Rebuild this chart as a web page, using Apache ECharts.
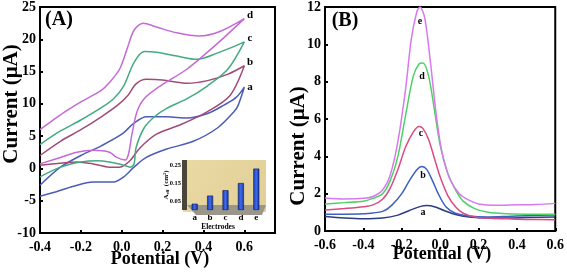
<!DOCTYPE html>
<html><head><meta charset="utf-8">
<script src="https://cdn.jsdelivr.net/npm/echarts@6/dist/echarts.min.js"></script>
<style>html,body{margin:0;padding:0;background:#fff}#c{width:567px;height:272px}</style>
</head><body><div id="c"></div>
<script>
// ---- Panel A: cyclic voltammograms [potential V, current uA] ----
const cvA = [[-0.4,-2.6],[-0.3,0.2],[-0.2,2.0],[-0.1,3.5],[0.0,5.3],[0.06,7.0],[0.12,8.0],[0.22,8.0],[0.32,7.8],[0.42,8.5],[0.5,9.8],[0.56,11.0],[0.6,12.6],
  [0.57,9.8],[0.55,8.8],[0.47,6.3],[0.35,4.2],[0.22,3.0],[0.12,1.7],[0.06,0.2],[0.01,-1.3],[-0.04,-2.1],[-0.14,-2.1],[-0.24,-2.8],[-0.32,-3.6],[-0.4,-4.3]];
const cvB = [[-0.4,2.0],[-0.3,4.2],[-0.2,6.0],[-0.1,8.0],[-0.02,9.8],[0.03,11.3],[0.07,13.1],[0.12,13.8],[0.2,13.7],[0.32,13.2],[0.42,13.6],[0.52,14.6],[0.6,15.9],
  [0.53,11.3],[0.42,8.8],[0.29,6.8],[0.17,5.3],[0.09,3.2],[0.04,1.2],[-0.01,0.2],[-0.06,0.2],[-0.14,0.7],[-0.22,1.0],[-0.3,0.8],[-0.4,0.5]];
const cvC = [[-0.4,3.7],[-0.3,5.8],[-0.2,7.5],[-0.1,9.4],[-0.04,10.8],[0.01,12.8],[0.06,16.4],[0.11,18.1],[0.17,18.0],[0.27,17.4],[0.37,16.9],[0.47,17.9],[0.55,18.9],[0.6,19.6],
  [0.52,15.4],[0.42,12.8],[0.32,10.8],[0.22,9.3],[0.16,8.0],[0.11,6.3],[0.07,3.2],[0.06,0.7],[0.04,0.2],[0.01,0.5],[-0.06,1.0],[-0.12,1.2],[-0.2,1.0],[-0.3,0.2],[-0.4,-1.3]];
const cvD = [[-0.4,6.0],[-0.3,8.3],[-0.2,10.3],[-0.1,12.1],[-0.06,13.3],[-0.01,15.4],[0.025,18.4],[0.06,21.4],[0.105,22.5],[0.17,21.9],[0.27,21.0],[0.38,20.5],[0.48,21.2],[0.6,23.2],
  [0.47,19.4],[0.32,15.4],[0.19,12.8],[0.11,10.8],[0.075,8.8],[0.05,5.3],[0.033,2.2],[0.017,1.3],[-0.024,1.7],[-0.06,2.5],[-0.14,2.8],[-0.22,2.5],[-0.3,1.7],[-0.4,0.7]];

// ---- Panel B: DPV [potential V, current uA] ----
const dpvA = [[-0.6,0.78],[-0.5,0.7],[-0.4,0.66],[-0.3,0.7],[-0.22,0.85],[-0.16,1.1],[-0.1,1.32],[-0.07,1.36],[-0.03,1.3],[0.02,1.1],[0.08,0.88],[0.15,0.75],[0.25,0.7],[0.35,0.7],[0.45,0.72],[0.6,0.75]];
const dpvB = [[-0.6,0.9],[-0.5,0.9],[-0.4,0.92],[-0.3,1.05],[-0.25,1.4],[-0.2,2.0],[-0.16,2.7],[-0.12,3.3],[-0.095,3.45],[-0.07,3.3],[-0.04,2.7],[-0.01,2.0],[0.03,1.3],[0.08,0.95],[0.15,0.8],[0.25,0.75],[0.35,0.78],[0.45,0.82],[0.6,0.86]];
const dpvC = [[-0.6,1.12],[-0.5,1.2],[-0.4,1.3],[-0.35,1.4],[-0.3,1.7],[-0.26,2.3],[-0.22,3.3],[-0.18,4.5],[-0.14,5.3],[-0.11,5.6],[-0.09,5.5],[-0.06,4.9],[-0.03,3.9],[0.0,2.9],[0.04,1.9],[0.08,1.3],[0.12,0.95],[0.18,0.75],[0.25,0.68],[0.35,0.65],[0.45,0.62],[0.6,0.6]];
const dpvD = [[-0.6,1.45],[-0.5,1.52],[-0.4,1.6],[-0.35,1.75],[-0.3,2.0],[-0.26,2.7],[-0.22,4.0],[-0.18,6.2],[-0.14,8.3],[-0.11,8.95],[-0.09,9.0],[-0.06,8.3],[-0.03,6.5],[0.0,4.6],[0.04,3.1],[0.08,2.2],[0.12,1.6],[0.18,1.2],[0.25,1.0],[0.35,0.92],[0.45,0.9],[0.6,0.9]];
const dpvE = [[-0.6,1.77],[-0.5,1.72],[-0.4,1.75],[-0.35,1.85],[-0.3,2.2],[-0.26,3.0],[-0.22,4.8],[-0.18,7.6],[-0.15,10.3],[-0.12,11.8],[-0.105,12.0],[-0.08,11.4],[-0.05,9.0],[-0.02,6.2],[0.01,4.2],[0.05,2.8],[0.1,2.0],[0.15,1.65],[0.2,1.45],[0.3,1.38],[0.4,1.4],[0.5,1.42],[0.6,1.48]];

// ---- Inset: effective area ----
const insetCats = ['a','b','c','d','e'];
const insetVals = [0.035,0.08,0.11,0.15,0.23];

const SERIF = '"Liberation Serif", "Times New Roman", serif';
const chart = echarts.init(document.getElementById('c'), null, {renderer:'canvas'});

function isMult(v, step){ const r = v/step; return Math.abs(r-Math.round(r))<1e-6; }
const axisCommon = {
  axisLine:{show:true, onZero:false, lineStyle:{color:'#000', width:2}},
  axisTick:{show:true, inside:true, length:3, lineStyle:{color:'#000', width:2}},
  splitLine:{show:false},
  axisLabel:{color:'#000', fontFamily:SERIF, fontWeight:'bold', fontSize:14}
};
function xAx(grid, min, max){
  return Object.assign({}, axisCommon, {type:'value', gridIndex:grid, min, max, interval:0.2,
    axisLabel:Object.assign({}, axisCommon.axisLabel, {margin:7, formatter:v=> isMult(v,0.2)? (Math.abs(v)<1e-9?'0.0':v.toFixed(1)) : ''})});
}
function yAx(grid, min, max, iv){
  return Object.assign({}, axisCommon, {type:'value', gridIndex:grid, min, max, interval:iv,
    axisLabel:Object.assign({}, axisCommon.axisLabel, {margin:4, formatter:v=> isMult(v,iv)? String(Math.round(v)) : ''})});
}
function line(x, y, data, color){
  return {type:'line', xAxisIndex:x, yAxisIndex:y, data, smooth:0.3, showSymbol:false, symbol:'none',
    lineStyle:{color, width:1.5}, z:3, animation:false};
}
const lbl = (text, x, y, size, extra) => Object.assign({type:'text', x, y, z:20,
  style:{text, font:'bold '+size+'px '+SERIF, fill:'#000', textAlign:'center', textVerticalAlign:'middle', verticalAlign:'middle'}}, extra||{});

const option = {
  animation:false,
  grid:[
    {left:40, top:4, width:235, height:229, show:true, borderColor:'#000', borderWidth:2, backgroundColor:'transparent'},
    {left:325, top:7, width:232, height:224, show:true, borderColor:'#000', borderWidth:2, backgroundColor:'transparent'},
    {left:187, top:165, width:77, height:45, show:false}
  ],
  xAxis:[
    xAx(0,-0.4,0.75),
    xAx(1,-0.6,0.6),
    {type:'category', gridIndex:2, data:insetCats, axisLine:{show:false}, axisTick:{show:false},
      axisLabel:{color:'#000', fontFamily:SERIF, fontWeight:'bold', fontSize:9, margin:3}}
  ],
  yAxis:[
    yAx(0,-10,25,5),
    yAx(1,0,12,2),
    {type:'value', gridIndex:2, min:0, max:0.25, interval:0.05, splitLine:{show:false},
      axisLine:{show:false}, axisTick:{show:false},
      axisLabel:{color:'#000', fontFamily:SERIF, fontWeight:'bold', fontSize:6.5, margin:6,
        formatter:v=> (isMult(v-0.05,0.1) && v>0.01) ? v.toFixed(2) : ''}}
  ],
  series:[
    line(0,0,cvA,'#4a5cb8'),
    line(0,0,cvB,'#a04c78'),
    line(0,0,cvC,'#44aa80'),
    line(0,0,cvD,'#c46ad6'),
    line(1,1,dpvA,'#2c3c82'),
    line(1,1,dpvB,'#3d5ec4'),
    line(1,1,dpvC,'#d94c82'),
    line(1,1,dpvD,'#4dd166'),
    line(1,1,dpvE,'#d879ee'),
    {type:'bar', xAxisIndex:2, yAxisIndex:2, data:insetVals, barWidth:6, z:5,
      itemStyle:{color:new echarts.graphic.LinearGradient(0,0,1,0,[{offset:0,color:'#1b3aa8'},{offset:0.5,color:'#3d6cf0'},{offset:1,color:'#1a2f8a'}]),
        borderColor:'#0d1a55', borderWidth:0.6}}
  ],
  graphic:[
    // inset backdrop
    {type:'rect', z:1, shape:{x:183, y:160, width:83, height:52}, style:{fill:new echarts.graphic.LinearGradient(0,0,1,1,[{offset:0,color:'#e9d9a2'},{offset:1,color:'#e2cf98'}])}},
    {type:'rect', z:1, shape:{x:182, y:160, width:5, height:50}, style:{fill:'#4a463a'}},
    {type:'polygon', z:1, shape:{points:[[187,205],[266,205],[262,215],[196,215]]}, style:{fill:'#9a968a'}},
    lbl('Electrodes', 218, 227, 7.5),
    lbl('{n|A}{s|eff} {n|(cm²)}', 166, 185, 7, {rotation:Math.PI/2, style:{text:'{n|A}{s|eff} {n|(cm²)}', fill:'#000', textAlign:'center', verticalAlign:'middle',
      rich:{n:{font:'bold 7px '+SERIF, fill:'#000'}, s:{font:'bold 4.5px '+SERIF, fill:'#000', padding:[4,0,0,0]}}}}),
    // panel titles
    lbl('(A)', 59, 20, 20),
    lbl('(B)', 345, 21, 20),
    // axis titles
    lbl('Current (μA)', 12, 104, 21, {rotation:Math.PI/2}),
    lbl('Current (μA)', 299, 146, 21, {rotation:Math.PI/2}),
    lbl('Potential (V)', 160, 259, 18),
    lbl('Potential (V)', 442, 254, 18),
    // curve labels A
    lbl('a', 250, 87, 11), lbl('b', 250, 62, 11), lbl('c', 250, 38, 11), lbl('d', 250, 15, 11),
    // curve labels B
    lbl('e', 420, 21, 10), lbl('d', 422, 76, 10), lbl('c', 421, 133, 10), lbl('b', 423, 175, 10), lbl('a', 423, 212, 10)
  ]
};
chart.setOption(option);
</script>
</body></html>
